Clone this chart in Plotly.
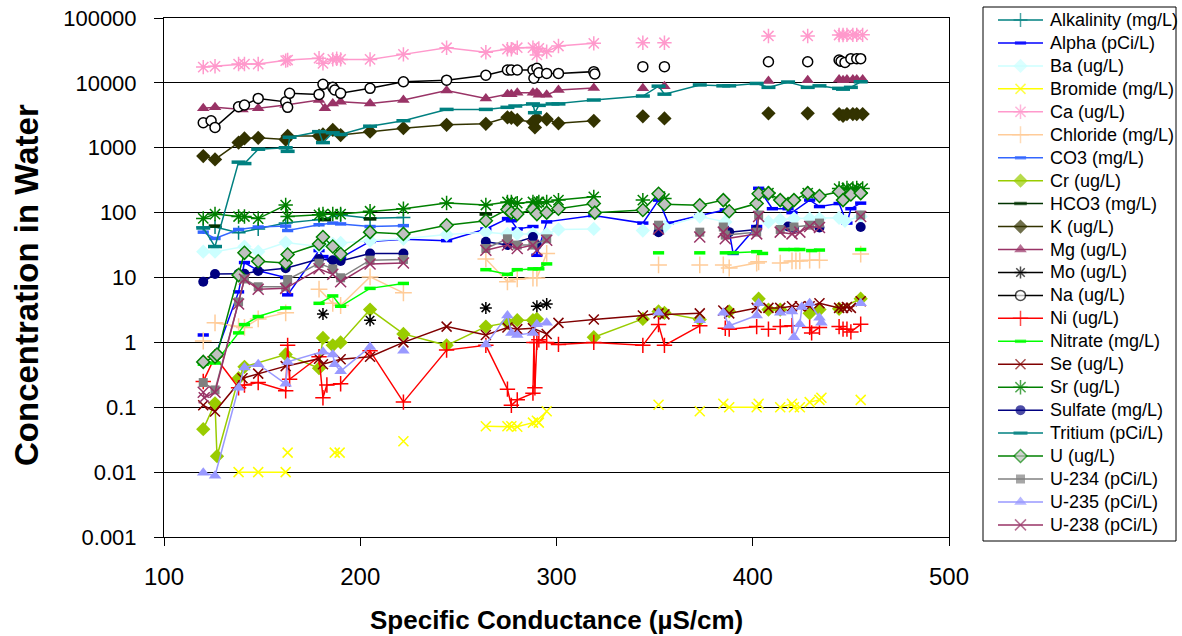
import plotly.graph_objects as go

# Water chemistry vs. specific conductance.
# Each series: (conductance in µS/cm, concentration); None breaks the line.
ALKALINITY = [(120, 60), (126, 60), (138, 49), (148, 56), (162, 69), (179, 78), (190, 92),
              (205, 82), (222, 84)]
ALPHA = [(120, 1.3), None, (126, 0.6), (138, 6.0), (141, 17), (148, 12.7), (162, 10), (163, 5.4),
         (179, 26), (181, 21), (186, 18.5), (190, 20), (205, 36), (222, 39), (244, 37), (264, 56),
         (275, 81), (277, 75), (280, 56), (288, 61), (290, 22), (295, 72), (319, 90), (344, 69),
         (352, 156), (357, 69), (373, 90), (386, 110), (390, 23.5), (402, 61), (403, 237),
         (410, 115), (418, 115), (420, 100), (429, 156), (434, 124), (444, 138), (448, 69),
         (450, 115), (455, 140)]
BA = [(120, 25), (126, 25), (141, 30), (148, 25), (162, 34.5), (179, 30), (186, 33), (190, 34),
      (205, 37), (222, 39.5), (244, 46), (264, 50), (275, 47), (280, 47), (288, 47), (295, 47),
      (301, 55), (319, 56), None, (344, 53), None, (355, 61), (373, 87), (386, 72), None,
      (408, 72), (414, 78), (421, 81), (429, 81), (434, 81), (444, 83), (447, 75), (455, 87)]
BROMIDE = [(138, 0.01), (148, 0.01), (162, 0.01), None, (163, 0.02), None, (187, 0.02),
           (189.5, 0.02), None, (222, 0.03), None, (264, 0.051), (275, 0.051), (277, 0.051),
           (280, 0.05), (288, 0.058), (290, 0.062), (291, 0.058), (295, 0.087), None,
           (352, 0.109), None, (373, 0.087), None, (385, 0.113), (388, 0.1), (402, 0.1),
           (403, 0.113), None, (414, 0.1), (420, 0.113), (421, 0.1), (424, 0.1), None,
           (429, 0.12), (434, 0.13), (435, 0.14), None, (455, 0.13)]
CA = [(120, 17500), (126, 18000), (138, 19500), (141, 19500), (148, 19500), (162, 22000),
      (163, 22500), (179, 24000), (181, 20000), (186, 23000), (188, 23500), (190, 23000),
      (205, 23000), (222, 27500), (244, 34800), (264, 29600), (275, 33000), (277, 33000),
      (280, 34800), (288, 35000), (290, 27000), (291, 34000), (295, 30300), (301, 37000),
      (319, 40700), None, (344, 41600), None, (355, 41600), None, (408, 52800), None,
      (428, 52800), None, (444, 54700), None, (446, 54700), None, (448, 55000), None,
      (451, 55000), None, (453, 55000), None, (456, 55000)]
CHLORIDE = [(120, 1.05), None, (126, 2.0), (138, 1.75), (141, 1.7), (148, 2.3), (162, 2.85), None,
            (179, 6.6), (186, 4.0), (190, 3.7), (205, 10.2), (222, 5.8), None, (264, 19.3),
            (275, 8.6), (280, 9.5), (288, 9.8), (290, 9.8), (295, 23.5), None, (352, 15.6), None,
            (373, 15.6), None, (385, 15.6), (388, 14), (402, 16.7), (403, 17.5), None,
            (414, 16.7), (420, 18), (422, 18), (424, 18), None, (429, 18.5), (434, 18.5), None,
            (455, 23)]
CO3 = [(120, 50), (126, 40), (138, 55), (148, 60), (162, 62), (163, 53), (179, 65), (186, 69),
       (190, 67), (205, 61), (222, 63)]
CR = [(120, 0.046), (126, 0.115), (127, 0.0176), (138, 0.28), (141, 0.42), (162, 0.65),
      (179, 0.4), (181, 1.17), (186, 0.9), (190, 1.0), (205, 3.2), (222, 1.35), (244, 0.9),
      (264, 1.75), (275, 2.0), (280, 2.2), (288, 2.2), (290, 2.3), None, (319, 1.2), (344, 2.3),
      None, (352, 3.0), (355, 2.85), (373, 2.25), None, (388, 3.0), None, (403, 4.7),
      (408, 3.2), (414, 3.2), None, (429, 2.8), (434, 3.2), None, (444, 3.3), (455, 4.7)]
HCO3 = [(126, 62), None, (182, 78), None, (205, 80), None, (264, 95)]
K = [(120, 745), (126, 660), (138, 1200), (141, 1390), (148, 1420), (162, 1340), (163, 1520),
     (179, 1520), (181, 1600), (186, 1880), (190, 1570), (205, 1770), (222, 2000), (244, 2260),
     (264, 2340), (275, 2940), (277, 2900), (280, 2680), (288, 2500), (289, 2060), (290, 2800),
     (295, 2750), (301, 2380), (319, 2600), None, (344, 3050), None, (355, 2830), None,
     (408, 3390), None, (428, 3390), None, (444, 3300), None, (446, 3100), None, (448, 3300),
     None, (451, 3300), None, (453, 3300), None, (456, 3300)]
MG = [(120, 4050), (126, 4200), (140, 3900), (148, 4050), (162, 4560), (179, 5440), (182, 4050),
      (186, 4830), (190, 5140), (205, 4830), (222, 5440), (244, 7600), (264, 5760), (275, 6700),
      (277, 6700), (280, 7050), (288, 7050), (290, 7050), (291, 6540), (295, 6540), (301, 7760),
      (319, 8300), None, (344, 8240), None, (355, 8900), None, (408, 10700), None, (428, 11000),
      None, (444, 11300), None, (446, 11000), None, (448, 11300), None, (451, 11300), None,
      (453, 11300), None, (456, 11300)]
MO = [(181, 2.74), None, (205, 2.2), None, (264, 3.4), None, (290, 3.6), (295, 3.9)]
NA = [(120, 2430), (124, 2610), (126, 2060), (138, 4290), (141, 4560), (148, 5760), (162, 5100),
      (163, 4200), (164, 6900), (179, 6640), (181, 9500), (186, 8530), (187, 7760), (190, 6900),
      (205, 8240), (222, 10400), (244, 11000), (264, 13100), (275, 15800), (277, 15800),
      (280, 15800), (288, 15800), (288.5, 11800), (290, 16800), (291, 14300), (295, 14000),
      (301, 14000), (319, 14900), (319.5, 13700), None, (344, 17800), None, (355, 17800), None,
      (408, 21200), None, (428, 21200), None, (444, 22500), None, (445, 21500), None,
      (447, 20700), None, (450, 23600), None, (453, 23600), None, (455, 23600)]
NI = [(120, 0.25), (126, 0.6), (138, 0.2), (141, 0.22), (148, 0.24), (162, 0.18), (163, 0.9),
      (164, 0.27), (179, 0.6), (181, 0.14), (183, 0.22), (190, 0.23), (205, 0.74), (222, 0.12),
      (244, 0.76), (264, 0.9), (275, 0.19), (277, 0.107), (280, 0.13), (288, 0.165),
      (288.5, 1.0), (289, 0.2), (290, 1.0), (291, 1.1), (295, 1.0), (301, 0.93), (319, 1.0),
      (344, 0.9), (352, 1.88), (355, 0.9), (373, 1.8), None, (386, 1.65), (388, 1.6),
      (402, 1.75), None, (408, 1.6), None, (414, 1.75), (420, 1.8), None, (429, 1.7),
      (430, 1.4), (434, 1.7), None, (444, 1.75), (446, 1.6), (448, 1.6), (450, 1.45),
      (455, 1.9)]
NITRATE = [(120, 0.46), (126, 0.48), (138, 1.4), (141, 1.88), (148, 2.5), (162, 3.4), None,
           (179, 4.0), (186, 5.2), (190, 3.6), (205, 6.8), (222, 8.1), None, (264, 13.2),
           (275, 11.2), (280, 13.2), (288, 13.6), (291, 13.6), (295, 16.2), None, (352, 24), None,
           (373, 24), None, (386, 24), (390, 24), (402, 25), (405, 23.5), None, (416, 27),
           (421, 27), (424, 27), None, (430, 26), (434, 26.5), None, (455, 27)]
SE = [(120, 0.107), (126, 0.086), (140, 0.28), (148, 0.33), (162, 0.43), (179, 0.56),
      (181, 0.46), (190, 0.55), (205, 0.6), (222, 1.0), (244, 1.75), (264, 1.3), (275, 1.7),
      (280, 1.6), (288, 1.65), (295, 1.35), (301, 2.0), (319, 2.25), (344, 2.6), (352, 2.8),
      (355, 2.7), (373, 2.8), None, (385, 3.1), (388, 2.8), (402, 3.4), None, (408, 3.4),
      (414, 3.4), (420, 3.6), (424, 3.6), (429, 3.6), (434, 4.0), (444, 3.4), (446, 3.4),
      (448, 3.5), (450, 3.4), (455, 4.3)]
SR = [(120, 81.5), (126, 95), (138, 87), (141, 87), (148, 81), (162, 131), (163, 87), (179, 92.5),
      (181, 95), (186, 95), (190, 95), (205, 105), (222, 115), (244, 141), (264, 131),
      (275, 146), (277, 146), (280, 140), (288, 146), (290, 140), (291, 146), (295, 146),
      (301, 156), (319, 175), None, (344, 156), None, (355, 165), None, (408, 200), None,
      (428, 200), None, (444, 235), None, (446, 225), None, (448, 240), None, (451, 235), None,
      (453, 240), None, (456, 235)]
SULFATE = [(120, 8.6), (126, 11.3), (138, 11.4), (141, 11.4), (148, 12.6), (162, 13.9),
           (179, 19.3), (186, 18.5), (190, 18), (205, 23.5), (222, 23.5), None, (264, 35.5),
           (275, 31.6), (288, 42), (290, 31.6), None, (352, 50), None, (388, 50), (402, 55), None,
           (418, 61), (421, 58), None, (434, 59), None, (455, 60)]
TRITIUM = [(120, 58), (126, 30), (138, 600), (141, 570), (148, 950), (162, 1000), (163, 880),
           (164, 1450), (179, 1770), (181, 1200), (186, 1700), (190, 1600), (205, 2150),
           (222, 2610), (244, 3900), (264, 3900), (275, 4200), (279, 4400), (288, 4740),
           (289, 3470), (291, 4500), (298, 4740), (301, 4740), (319, 5440), (344, 6270),
           (352, 8900), (355, 6700), (373, 9300), (385, 9000), (388, 9000), (402, 9800),
           (408, 8530), (418, 10300), (428, 8530), (434, 9000), (444, 8240), (446, 8000),
           (450, 8530), (455, 10400)]
U = [(120, 0.5), (126, 0.6), (127, 0.65), (138, 10.9), (141, 24), (148, 17.8), (162, 16.7),
     (163, 22.6), (179, 32.8), (181, 42), (186, 30), (190, 23), (205, 50), (222, 47), (244, 64),
     (264, 75), (275, 112), (277, 100), (280, 95), (288, 112), (290, 95), (295, 100), (301, 115),
     (319, 138), (319.5, 100), (344, 110), (352, 195), (355, 135), (373, 130), (385, 156),
     (388, 105), (402, 138), (403, 195), (408, 200), (414, 156), (418, 135), (421, 156),
     (428, 200), (434, 180), (444, 210), (446, 156), (450, 190), (455, 200)]
U234 = [(120, 0.24), (126, 0.185), (138, 4.2), (141, 9.5), (148, 7.2), (162, 7.2), (163, 9.3),
        (179, 16.6), (186, 13.6), (190, 9.9), (205, 18.5), (222, 19), None, (264, 28), (275, 39.5),
        (280, 31.6), (288, 31.6), (295, 39.5), None, (352, 64), None, (373, 50), None, (385, 60),
        (386, 45), (402, 50), (403, 92), None, (414, 55), (421, 60), (429, 64), (434, 69), None,
        (455, 92)]
U235 = [(120, 0.0098), (126, 0.0088), (138, 0.2), (141, 0.41), (148, 0.46), (162, 0.23),
        (163, 0.5), (181, 0.72), (186, 0.65), (187, 0.46), (190, 0.36), (205, 0.85), None,
        (222, 0.74), None, (264, 0.93), (275, 2.6), (277, 1.4), (280, 1.3), (288, 1.4), (290, 1.9),
        (295, 2.0), None, (352, 2.85), None, (373, 2.2), None, (385, 2.85), (388, 1.8),
        (402, 2.6), (403, 4.0), None, (414, 2.85), (420, 3.0), (421, 1.2), (424, 1.9),
        (425, 3.5), (429, 4.0), (434, 2.4), (435, 2.0), None, (455, 4.0)]
U238 = [(120, 0.17), (120.5, 0.14), (126, 0.17), (138, 3.9), (141, 9.4), (148, 6.6), (162, 6.8),
        (179, 13.6), (186, 11.2), (190, 8.6), (205, 16.2), (222, 16.7), None, (264, 26.3),
        (275, 31.6), (280, 28), (288, 31.6), (290, 26.3), (295, 37.5), None, (352, 56), None,
        (373, 42), None, (385, 50), (386, 39.5), (402, 47), (403, 87), None, (414, 50),
        (420, 47), (424, 50), (429, 61), (434, 59), None, (455, 87)]

Y_TICK_VALS = [0.001, 0.01, 0.1, 1, 10, 100, 1000, 10000, 100000]
Y_TICK_TEXT = ["0.001", "0.01", "0.1", "1", "10", "100", "1000", "10000", "100000"]
X_TICK_VALS = [100, 200, 300, 400, 500]

FONT = "Liberation Sans, Arial, sans-serif"
W, H = 1182, 636

# name, points, line colour, marker symbol, marker size, marker fill, marker outline width
SERIES = [
    ("Alkalinity (mg/L)", ALKALINITY, "#008080", "cross-thin-open", 10, None, 1.5),
    ("Alpha (pCi/L)", ALPHA, "#0000FF", "line-ew-open", 8, None, 3.5),
    ("Ba (ug/L)", BA, "#CCFFFF", "diamond", 11, "#CCFFFF", 0),
    ("Bromide (mg/L)", BROMIDE, "#FFFF00", "x-thin-open", 10, None, 1.5),
    ("Ca (ug/L)", CA, "#FF99CC", "asterisk-open", 12, None, 1.5),
    ("Chloride (mg/L)", CHLORIDE, "#FFCC99", "cross-thin-open", 12, None, 1.5),
    ("CO3 (mg/L)", CO3, "#3366FF", "line-ew-open", 8, None, 3.5),
    ("Cr (ug/L)", CR, "#99CC00", "diamond", 11, "#99CC00", 0),
    ("HCO3 (mg/L)", HCO3, "#003300", "line-ew-open", 9, None, 3.5),
    ("K (ug/L)", K, "#333300", "diamond", 11, "#333300", 0),
    ("Mg (ug/L)", MG, "#993366", "triangle-up", 11, "#993366", 0),
    ("Mo (ug/L)", MO, "#000000", "asterisk-open", 10, None, 1.5),
    ("Na (ug/L)", NA, "#000000", "circle", 10, "#FFFFFF", 1.5),
    ("Ni (ug/L)", NI, "#FF0000", "cross-thin-open", 11, None, 1.5),
    ("Nitrate (mg/L)", NITRATE, "#00FF00", "line-ew-open", 8, None, 3.5),
    ("Se (ug/L)", SE, "#800000", "x-thin-open", 10, None, 1.5),
    ("Sr (ug/L)", SR, "#008000", "asterisk-open", 12, None, 1.5),
    ("Sulfate (mg/L)", SULFATE, "#000080", "circle", 10, "#000080", 0),
    ("Tritium (pCi/L)", TRITIUM, "#008080", "line-ew-open", 10, None, 3.5),
    ("U (ug/L)", U, "#008000", "diamond", 10, "#C0C0C0", 1.5),
    ("U-234 (pCi/L)", U234, "#808080", "square", 9, "#808080", 0),
    ("U-235 (pCi/L)", U235, "#9999FF", "triangle-up", 11, "#9999FF", 0),
    ("U-238 (pCi/L)", U238, "#993366", "x-thin-open", 11, None, 1.5),
]

# plot-area and key-box placement, in pixels
PLOT_L, PLOT_R, PLOT_T, PLOT_B = 164, 949, 18, 537
KEY_L, KEY_R, KEY_T, KEY_B = 983, 1176, 7, 541
KEY_SYM_L, KEY_SYM_R, KEY_TEXT_X = 998, 1043, 1048
KEY_FIRST_Y, KEY_STEP = 20, 22.95


def px_x(p):
    return p / W


def px_y(p):
    return 1 - p / H


def split(points):
    xs, ys = [], []
    for p in points:
        if p is None:
            xs.append(None)
            ys.append(None)
        else:
            xs.append(p[0])
            ys.append(p[1])
    return xs, ys


def marker(symbol, size, color, fill, mlw):
    return dict(symbol=symbol, size=size, color=fill if fill else color,
                line=dict(color=color, width=mlw))


fig = go.Figure()
n = len(SERIES)
annotations = []
for i, (name, pts, color, symbol, size, fill, mlw) in enumerate(SERIES):
    xs, ys = split(pts)
    fig.add_trace(go.Scatter(
        x=xs, y=ys, name=name, mode="lines+markers", showlegend=False,
        line=dict(color=color, width=1.5),
        marker=marker(symbol, size, color, fill, mlw),
    ))
    # key entry: short line with the series marker in its middle
    km = marker(symbol, size, color, fill, mlw)
    km["size"] = [0, size, 0]
    fig.add_trace(go.Scatter(
        x=[0, 0.5, 1], y=[i, i, i], xaxis="x2", yaxis="y2", mode="lines+markers",
        showlegend=False, hoverinfo="skip",
        line=dict(color=color, width=1.5), marker=km,
    ))
    annotations.append(dict(
        text=name, x=px_x(KEY_TEXT_X), y=i, xref="paper", yref="y2",
        xanchor="left", yanchor="middle", showarrow=False,
        font=dict(family=FONT, size=18, color="black"),
    ))

key_top = KEY_FIRST_Y - KEY_STEP / 2
key_bot = key_top + KEY_STEP * n

annotations += [
    dict(text="<b>Specific Conductance (µS/cm)</b>", x=(px_x(PLOT_L) + px_x(PLOT_R)) / 2,
         y=px_y(620), xref="paper", yref="paper", xanchor="center", yanchor="middle",
         showarrow=False, font=dict(family=FONT, size=26, color="black")),
    dict(text="<b>Concentration in Water</b>", x=px_x(26), y=px_y(285),
         xref="paper", yref="paper", xanchor="center", yanchor="middle", showarrow=False,
         textangle=-90, font=dict(family=FONT, size=33, color="black")),
]

fig.update_layout(
    template="none",
    width=W, height=H,
    margin=dict(l=0, r=0, t=0, b=0, pad=0, autoexpand=False),
    paper_bgcolor="white", plot_bgcolor="white",
    font=dict(family=FONT, color="black"),
    showlegend=False,
    xaxis=dict(
        domain=[px_x(PLOT_L), px_x(PLOT_R)], automargin=False,
        range=[100, 500], tickvals=X_TICK_VALS, ticks="outside", ticklen=8,
        tickcolor="black", showgrid=False, zeroline=False, ticklabelstandoff=10,
        showline=True, linecolor="black", linewidth=1, mirror=True,
        tickfont=dict(family=FONT, size=24, color="black"),
    ),
    yaxis=dict(
        domain=[px_y(PLOT_B), px_y(PLOT_T)], automargin=False,
        type="log", range=[-3, 5], tickvals=Y_TICK_VALS, ticktext=Y_TICK_TEXT,
        ticks="outside", ticklen=9, tickcolor="black", ticklabelstandoff=13,
        showgrid=True, gridcolor="black", gridwidth=1, zeroline=False,
        showline=True, linecolor="black", linewidth=1, mirror=True,
        tickfont=dict(family=FONT, size=22, color="black"),
    ),
    xaxis2=dict(domain=[px_x(KEY_SYM_L), px_x(KEY_SYM_R)], range=[0, 1], visible=False,
                fixedrange=True, automargin=False),
    yaxis2=dict(domain=[px_y(key_bot), px_y(key_top)], range=[n - 0.5, -0.5],
                visible=False, fixedrange=True, anchor="x2", automargin=False),
    shapes=[dict(type="rect", xref="paper", yref="paper",
                 x0=px_x(KEY_L), x1=px_x(KEY_R), y0=px_y(KEY_B), y1=px_y(KEY_T),
                 line=dict(color="black", width=1), fillcolor="rgba(0,0,0,0)", layer="below")],
    annotations=annotations,
)

fig.write_html("out.html")
